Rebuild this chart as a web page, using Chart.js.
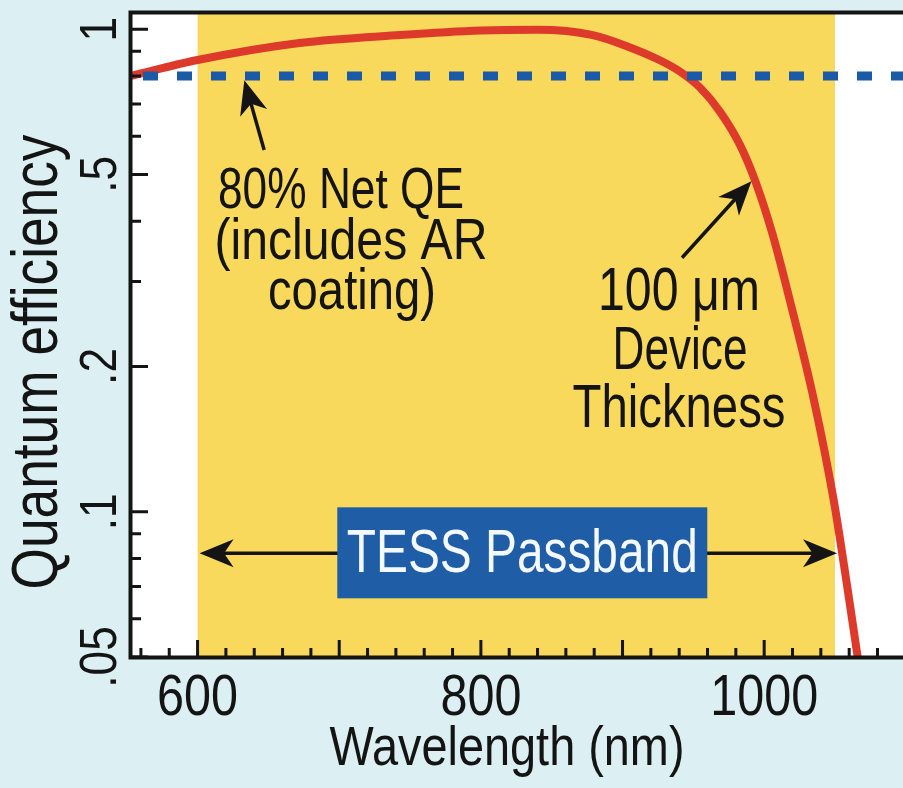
<!DOCTYPE html>
<html>
<head>
<meta charset="utf-8">
<script src="https://cdn.jsdelivr.net/npm/chart.js@4.4.1/dist/chart.umd.min.js"></script>
<style>
  html, body { margin: 0; padding: 0; background: #dcf0f3; }
  #wrap { width: 903px; height: 788px; }
</style>
</head>
<body>
<div id="wrap"><canvas id="qe-chart" width="903" height="788"></canvas></div>
<script>
// values (wavelength in nm, QE as fraction)
const wavelengthNm = [553, 600, 672, 743, 800, 840, 879, 903, 926, 941, 955, 969, 983, 994, 1006, 1018, 1035, 1049, 1058, 1066];
const quantumEff = [0.80, 0.863, 0.936, 0.972, 0.993, 0.997, 0.972, 0.922, 0.863, 0.815, 0.755, 0.673, 0.575, 0.482, 0.375, 0.275, 0.171, 0.106, 0.072, 0.05];
const netQE = 0.8;
const passband = [600, 1050];
const xRange = [553, 1098];
const yRange = [0.05, 1.08];
const xTickValues = [600, 800, 1000];
const yTickValues = [1, 0.5, 0.2, 0.1, 0.05];
const yTickLabels = ['1', '.5', '.2', '.1', '.05'];
const yMinorTicks = [0.9, 0.8, 0.7, 0.6, 0.4, 0.3, 0.09, 0.08, 0.07, 0.06];

// annotation anchors, in data units
const netQEArrow = { from: [647, 0.562], to: [633, 0.784] };
const thickArrow = { from: [942, 0.336], to: [991, 0.484] };
const passbandArrowY = 0.082;

const FONT = '"Liberation Sans", Arial, Helvetica, sans-serif';
const INK = '#141414';

// condensed text: squeeze the string into the given width
function drawText(ctx, str, x, y, size, width, opts = {}) {
  ctx.save();
  ctx.font = `${size}px ${FONT}`;
  ctx.fillStyle = opts.color || INK;
  ctx.textAlign = 'center';
  ctx.textBaseline = 'alphabetic';
  ctx.translate(x, y);
  if (opts.rotate) ctx.rotate(opts.rotate);
  const w = ctx.measureText(str).width;
  ctx.scale(width ? width / w : (opts.sx || 0.82), 1);
  ctx.fillText(str, 0, 0);
  ctx.restore();
}

function arrowHead(ctx, x, y, angle) {
  const len = 34, half = 14;
  ctx.save();
  ctx.translate(x, y);
  ctx.rotate(angle);
  ctx.beginPath();
  ctx.moveTo(0, 0);
  ctx.lineTo(-len, -half);
  ctx.lineTo(-len * 0.72, 0);
  ctx.lineTo(-len, half);
  ctx.closePath();
  ctx.fill();
  ctx.restore();
}

function arrow(ctx, x1, y1, x2, y2, both) {
  const a = Math.atan2(y2 - y1, x2 - x1);
  const cut = 20;
  ctx.save();
  ctx.strokeStyle = ctx.fillStyle = INK;
  ctx.lineWidth = 3.5;
  ctx.beginPath();
  ctx.moveTo(both ? x1 + Math.cos(a) * cut : x1, both ? y1 + Math.sin(a) * cut : y1);
  ctx.lineTo(x2 - Math.cos(a) * cut, y2 - Math.sin(a) * cut);
  ctx.stroke();
  arrowHead(ctx, x2, y2, a);
  if (both) arrowHead(ctx, x1, y1, a + Math.PI);
  ctx.restore();
}

const backdrop = {
  id: 'backdrop',
  beforeDraw(chart) {
    const { ctx, chartArea: ca, scales: { x } } = chart;
    ctx.save();
    ctx.fillStyle = '#dcf0f3';
    ctx.fillRect(0, 0, chart.width, chart.height);
    ctx.fillStyle = '#ffffff';
    ctx.fillRect(ca.left, ca.top, ca.right - ca.left, ca.bottom - ca.top);
    // TESS passband shading
    const x0 = x.getPixelForValue(passband[0]);
    const x1 = x.getPixelForValue(passband[1]);
    ctx.fillStyle = '#f9d95b';
    ctx.fillRect(x0, ca.top, x1 - x0, ca.bottom - ca.top);
    ctx.restore();
  }
};

const decorations = {
  id: 'decorations',
  afterDatasetsDraw(chart) {
    const { ctx, chartArea: ca, scales: { x, y } } = chart;
    ctx.save();

    // inward ticks
    ctx.strokeStyle = INK;
    ctx.lineWidth = 3;
    ctx.beginPath();
    for (let v = 560; v <= 1080; v += 20) {
      const px = x.getPixelForValue(v);
      const len = v % 100 === 0 ? 17 : 9;
      ctx.moveTo(px, ca.bottom); ctx.lineTo(px, ca.bottom - len);
    }
    yTickValues.forEach(v => {
      const py = y.getPixelForValue(v);
      ctx.moveTo(ca.left, py); ctx.lineTo(ca.left + 17, py);
    });
    yMinorTicks.forEach(v => {
      const py = y.getPixelForValue(v);
      ctx.moveTo(ca.left, py); ctx.lineTo(ca.left + 10, py);
    });
    ctx.stroke();

    // frame (open on the right, image is cropped there)
    ctx.lineWidth = 4;
    ctx.beginPath();
    ctx.moveTo(chart.width, ca.top - 0.5);
    ctx.lineTo(ca.left - 0.5, ca.top - 0.5);
    ctx.lineTo(ca.left - 0.5, ca.bottom + 0.5);
    ctx.lineTo(chart.width, ca.bottom + 0.5);
    ctx.stroke();

    // tick labels
    xTickValues.forEach(v => {
      const s = String(v);
      drawText(ctx, s, x.getPixelForValue(v), 715, 58, s.length * 27);
    });
    yTickValues.forEach((v, i) => {
      const s = yTickLabels[i];
      drawText(ctx, s, 116, y.getPixelForValue(v), 52, null, { rotate: -Math.PI / 2, sx: 0.85 });
    });

    // axis titles
    drawText(ctx, 'Wavelength (nm)', 507, 765, 56, 355);
    drawText(ctx, 'Quantum efficiency', 57, 362, 64, 455, { rotate: -Math.PI / 2 });

    // annotations
    drawText(ctx, '80% Net QE', 341, 208, 58, 246);
    drawText(ctx, '(includes AR', 351, 259, 58, 273);
    drawText(ctx, 'coating)', 352, 309, 58, 168);

    drawText(ctx, '100 μm', 679, 310, 62, 162);
    drawText(ctx, 'Device', 680, 369, 62, 135);
    drawText(ctx, 'Thickness', 679, 427, 62, 213);

    const px = p => [x.getPixelForValue(p[0]), y.getPixelForValue(p[1])];
    let [a1, b1] = px(netQEArrow.from), [a2, b2] = px(netQEArrow.to);
    arrow(ctx, a1, b1, a2, b2);
    [a1, b1] = px(thickArrow.from); [a2, b2] = px(thickArrow.to);
    arrow(ctx, a1, b1, a2, b2);

    const by = y.getPixelForValue(passbandArrowY);
    const bx0 = x.getPixelForValue(passband[0]);
    const bx1 = x.getPixelForValue(passband[1]);
    arrow(ctx, bx0 + 2, by, bx1 + 2, by, true);

    // passband label box
    const mid = (bx0 + bx1) / 2 + 6;
    ctx.fillStyle = '#1f5da6';
    ctx.fillRect(mid - 185, by - 46, 370, 91);
    drawText(ctx, 'TESS Passband', mid, by + 19, 61, 351, { color: '#f4f9ff' });

    ctx.restore();
  }
};

const ctx = document.getElementById('qe-chart').getContext('2d');
new Chart(ctx, {
  type: 'line',
  data: {
    datasets: [
      {
        label: 'Net QE',
        data: xRange.map(v => ({ x: v, y: netQE })),
        borderColor: '#1b5aa7',
        borderWidth: 9,
        borderDash: [15, 19],
        borderDashOffset: 22,
        borderCapStyle: 'butt',
        pointRadius: 0,
        clip: 0,
        order: 0
      },
      {
        label: 'QE (100 μm device)',
        data: wavelengthNm.map((w, i) => ({ x: w, y: quantumEff[i] })),
        borderColor: '#dd3a2c',
        borderWidth: 8,
        cubicInterpolationMode: 'monotone',
        pointRadius: 0,
        clip: 0,
        order: 1
      }
    ]
  },
  options: {
    responsive: false,
    animation: false,
    devicePixelRatio: 1,
    layout: { padding: { top: 13, right: 0, left: 0, bottom: 0 } },
    plugins: { legend: { display: false }, tooltip: { enabled: false } },
    scales: {
      x: {
        type: 'linear',
        min: xRange[0],
        max: xRange[1],
        ticks: { display: false },
        grid: { display: false },
        border: { display: false },
        afterFit: s => { s.height = 131; }
      },
      y: {
        type: 'logarithmic',
        min: yRange[0],
        max: yRange[1],
        ticks: { display: false },
        grid: { display: false },
        border: { display: false },
        afterFit: s => { s.width = 131; }
      }
    }
  },
  plugins: [backdrop, decorations]
});
</script>
</body>
</html>
